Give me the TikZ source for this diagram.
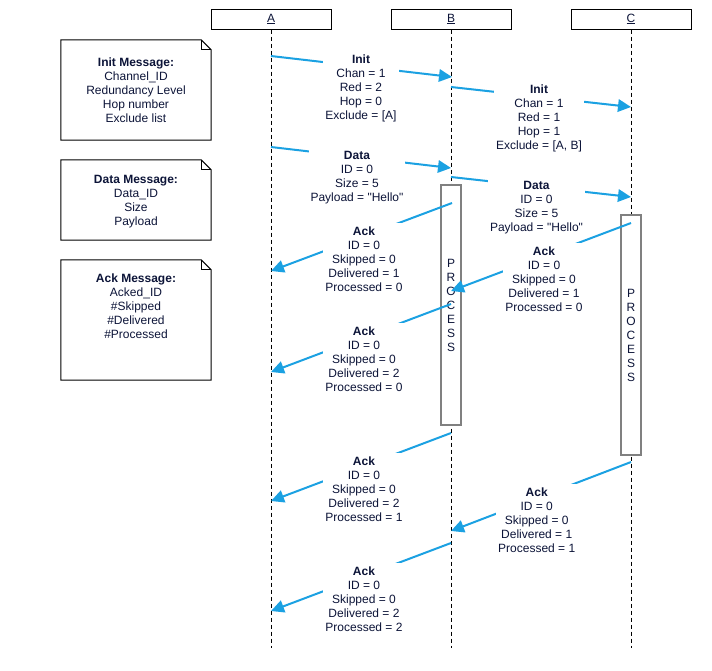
\documentclass[tikz,border=0pt]{standalone}
\usepackage{fontspec}
\setmainfont{Liberation Sans}
\newfontfamily\plainq{Liberation Sans}
\newcommand{\sq}{{\plainq"}}
\usetikzlibrary{arrows.meta}
\definecolor{txt}{HTML}{0C1438}
\definecolor{msg}{HTML}{1BA1E2}
\definecolor{actgray}{HTML}{808080}
\begin{document}
\begin{tikzpicture}[x=1pt,y=-1pt,
  every node/.style={font=\fontsize{12}{14}\selectfont, text=txt},
  header/.style={draw=black, line width=1pt, minimum width=120pt, minimum height=20pt, inner sep=0pt},
  life/.style={draw=black, line width=1pt, dash pattern=on 4pt off 3pt},
  actbox/.style={draw=actgray, fill=white, line width=1.5pt, minimum width=20pt, minimum height=240pt, align=center, inner sep=0pt},
  msgline/.style={draw=msg, line width=2pt, -{Triangle[length=13pt,width=12.5pt]}},
  msglabel/.style={fill=white, align=center, anchor=north, inner xsep=2pt, inner ysep=3.5pt},
  notebox/.style={minimum width=150pt, minimum height=100pt, inner sep=0pt},
  noteline/.style={draw=black, line width=1pt},
  notetext/.style={align=center, anchor=north, inner sep=0pt},
]
\useasboundingbox (0,0) rectangle (712,670);

% headers
\node[header] (hA) at (271,19) {\underline{A}};
\node[header] (hB) at (451,19) {\underline{B}};
\node[header] (hC) at (631,19) {\underline{C}};

% lifelines
\coordinate (endA) at (271,648);
\coordinate (endB) at (451,648);
\coordinate (endC) at (631,648);
\draw[life] (hA.south) -- (endA);
\draw[life] (hB.south) -- (endB);
\draw[life] (hC.south) -- (endC);

% activation boxes
\node[actbox] (pB) at (451,305) {P\\R\\O\\C\\E\\S\\S};
\node[actbox] (pC) at (631,335) {P\\R\\O\\C\\E\\S\\S};

% notes
\node[notebox] (n1) at (136,90) {};
\node[notebox, minimum height=80pt] (n2) at (136,200) {};
\node[notebox, minimum height=120pt] (n3) at (136,320) {};
\foreach \n in {n1,n2,n3}{
  \draw[noteline] (\n.north west) -- ([shift={(-10,0)}]\n.north east) -- ([shift={(0,10)}]\n.north east) -- (\n.south east) -- (\n.south west) -- cycle;
  \draw[noteline] ([shift={(-10,0)}]\n.north east) -- ([shift={(-10,10)}]\n.north east) -- ([shift={(0,10)}]\n.north east);
}
\node[notetext] (t1) at (136,57.7) {\textbf{Init Message:}\\Channel\_ID\\Redundancy Level\\Hop number\\Exclude list};
\node[notetext] (t2) at (136,174.7) {\textbf{Data Message:}\\Data\_ID\\Size\\Payload};
\node[notetext] (t3) at (136,274) {\textbf{Ack Message:}\\Acked\_ID\\\#Skipped\\\#Delivered\\\#Processed};

% message end points
\coordinate (i1s) at (271,56);  \coordinate (i1e) at (452,77);
\coordinate (i2s) at (451,87);  \coordinate (i2e) at (631,107);
\coordinate (d1s) at (271,147); \coordinate (d1e) at (451,168);
\coordinate (d2s) at (451,177); \coordinate (d2e) at (631,197);
\coordinate (a1s) at (452,203); \coordinate (a1e) at (271,271);
\coordinate (a2s) at (631,223); \coordinate (a2e) at (451,291);
\coordinate (a3s) at (451,304); \coordinate (a3e) at (271,372);
\coordinate (a4s) at (451,433); \coordinate (a4e) at (271,501);
\coordinate (a5s) at (631,462); \coordinate (a5e) at (451,531);
\coordinate (a6s) at (451,543); \coordinate (a6e) at (271,611);

\draw[msgline] (i1s) -- (i1e);
\draw[msgline] (i2s) -- (i2e);
\draw[msgline] (d1s) -- (d1e);
\draw[msgline] (d2s) -- (d2e);
\draw[msgline] (a1s) -- (a1e);
\draw[msgline] (a2s) -- (a2e);
\draw[msgline] (a3s) -- (a3e);
\draw[msgline] (a4s) -- (a4e);
\draw[msgline] (a5s) -- (a5e);
\draw[msgline] (a6s) -- (a6e);

% message labels
\node[msglabel] (li1) at (361,51.2) {\textbf{Init}\\Chan = 1\\Red = 2\\Hop = 0\\Exclude = [A]};
\node[msglabel] (li2) at (539,81.2) {\textbf{Init}\\Chan = 1\\Red = 1\\Hop = 1\\Exclude = [A, B]};
\node[msglabel] (ld1) at (357,147.9) {\textbf{Data}\\ID = 0\\Size = 5\\Payload = \sq Hello\sq};
\node[msglabel] (ld2) at (536.5,177.9) {\textbf{Data}\\ID = 0\\Size = 5\\Payload = \sq Hello\sq};
\node[msglabel] (la1) at (364,222.9) {\textbf{Ack}\\ID = 0\\Skipped = 0\\Delivered = 1\\Processed = 0};
\node[msglabel] (la2) at (544,242.9) {\textbf{Ack}\\ID = 0\\Skipped = 0\\Delivered = 1\\Processed = 0};
\node[msglabel] (la3) at (364,322.9) {\textbf{Ack}\\ID = 0\\Skipped = 0\\Delivered = 2\\Processed = 0};
\node[msglabel] (la4) at (364,452.9) {\textbf{Ack}\\ID = 0\\Skipped = 0\\Delivered = 2\\Processed = 1};
\node[msglabel] (la5) at (536.7,483.9) {\textbf{Ack}\\ID = 0\\Skipped = 0\\Delivered = 1\\Processed = 1};
\node[msglabel] (la6) at (364,562.9) {\textbf{Ack}\\ID = 0\\Skipped = 0\\Delivered = 2\\Processed = 2};
\end{tikzpicture}
\end{document}
